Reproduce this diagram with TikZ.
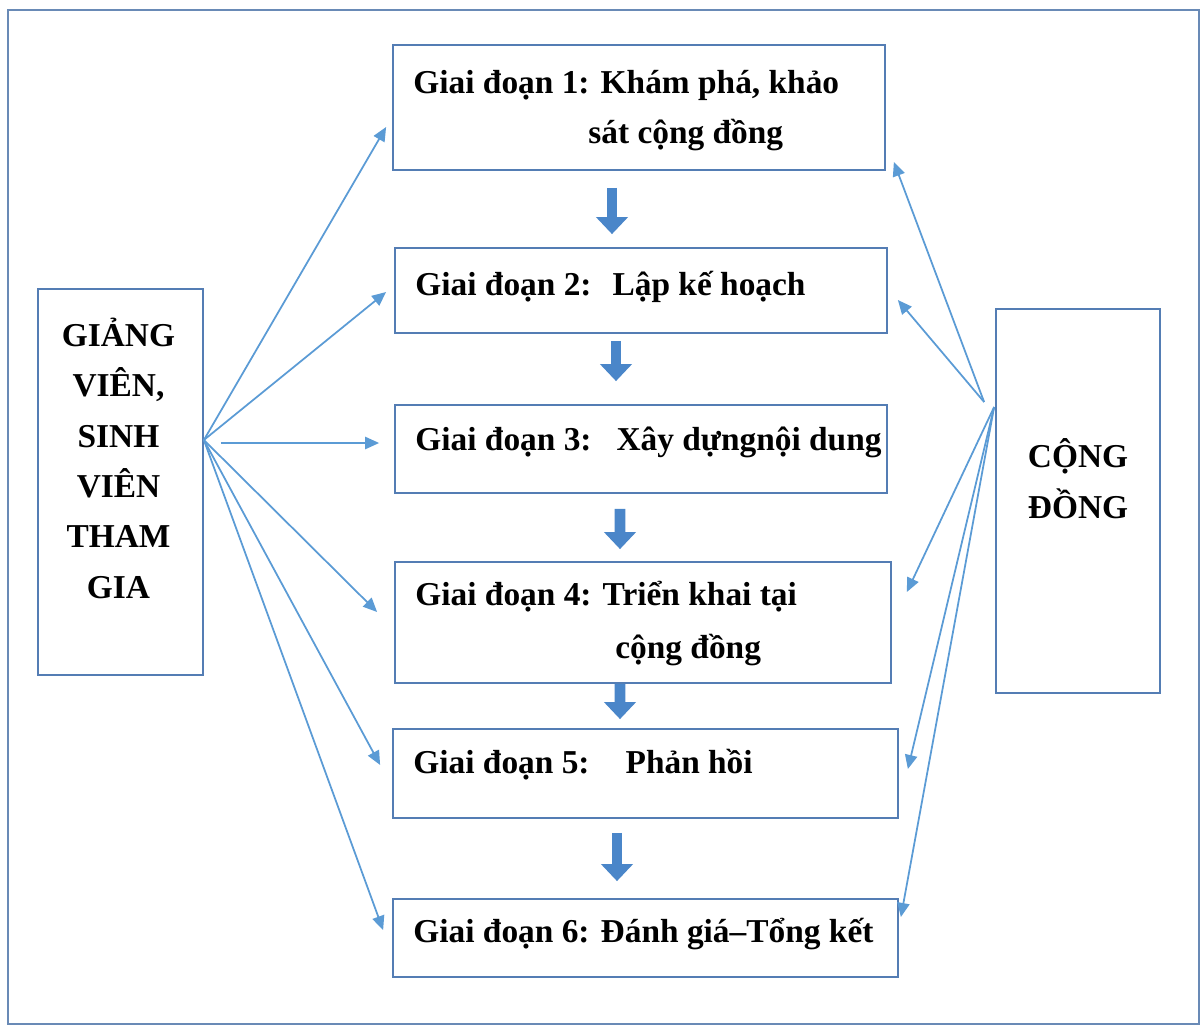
\documentclass[tikz,border=0pt]{standalone}
\usepackage{fontspec}
\setmainfont{Liberation Serif}
\usetikzlibrary{arrows.meta,calc}
\definecolor{boxblue}{RGB}{84,125,180}
\definecolor{linkblue}{RGB}{91,155,213}
\definecolor{flowblue}{RGB}{74,134,201}
\definecolor{framegray}{RGB}{105,138,182}
\tikzstyle{stage}=[draw=boxblue, line width=1pt, rectangle, inner sep=0pt]
\tikzstyle{txt}=[font=\bfseries\fontsize{19}{28.6}\selectfont, inner sep=0pt, anchor=base west]
\tikzstyle{link}=[linkblue, line width=1pt, -{Triangle[length=8pt,width=7pt]}]
\tikzstyle{flow}=[flowblue, line width=6.2pt, -{Triangle[length=0.34cm,width=0.62cm]}]
\begin{document}
\begin{tikzpicture}
	\useasboundingbox (0,0) rectangle (24.04,-20.52);
	\draw[framegray, line width=1.6pt] (0.16,-0.2) rectangle (23.98,-20.48);
%
	\node[stage, minimum width=9.84cm, minimum height=2.5cm] (b1) at (12.78,-2.15) {};
	\node[stage, minimum width=9.84cm, minimum height=1.7cm] (b2) at (12.82,-5.81) {};
	\node[stage, minimum width=9.84cm, minimum height=1.76cm] (b3) at (12.82,-8.98) {};
	\node[stage, minimum width=9.92cm, minimum height=2.42cm] (b4) at (12.86,-12.45) {};
	\node[stage, minimum width=10.1cm, minimum height=1.78cm] (b5) at (12.91,-15.47) {};
	\node[stage, minimum width=10.1cm, minimum height=1.56cm] (b6) at (12.91,-18.76) {};
	\node[stage, minimum width=3.3cm, minimum height=7.72cm] (gv) at (2.41,-9.64) {};
	\node[stage, minimum width=3.28cm, minimum height=7.68cm] (cd) at (21.56,-10.02) {};
%
	\node[txt] (t1a) at (8.26,-1.86) {Giai đoạn 1: Khám phá, khảo};
	\node[txt] (t1b) at (11.76,-2.86) {sát cộng đồng};
	\node[txt] (t2) at (8.30,-5.90) {Giai đoạn 2:\hspace{0.42cm}Lập kế hoạch};
	\node[txt] (t3) at (8.30,-9.00) {Giai đoạn 3:\hspace{0.5cm}Xây dựngnội dung};
	\node[txt] (t4a) at (8.30,-12.10) {Giai đoạn 4: Triển khai tại};
	\node[txt] (t4b) at (12.30,-13.16) {cộng đồng};
	\node[txt] (t5) at (8.26,-15.46) {Giai đoạn 5:\hspace{0.72cm}Phản hồi};
	\node[txt] (t6) at (8.26,-18.84) {Giai đoạn 6: Đánh giá–Tổng kết};
	\node[txt, anchor=base, align=center] (tgv) at (2.37,-11.96) {GIẢNG\\VIÊN,\\SINH\\VIÊN\\THAM\\GIA};
	\node[txt, anchor=base, align=center] (tcd) at (21.56,-10.36) {CỘNG\\ĐỒNG};
%
	\draw[flow] ($(b1.south)+(-0.54,-0.34)$) -- ($(b2.north)+(-0.58,0.26)$);
	\draw[flow] ($(b2.south)+(-0.5,-0.14)$) -- ($(b3.north)+(-0.5,0.46)$);
	\draw[flow] ($(b3.south)+(-0.42,-0.3)$) -- ($(b4.north)+(-0.46,0.24)$);
	\draw[flow] ($(b4.south)+(-0.46,0)$) -- ($(b5.north)+(-0.51,0.18)$);
	\draw[flow] ($(b5.south)+(-0.57,-0.28)$) -- ($(b6.north)+(-0.57,0.34)$);
%
	\coordinate (gvout) at ($(gv.east)+(0,0.84)$);
	\draw[link] (gvout) -- ($(b1.west)+(-0.12,-0.39)$);
	\draw[link] (gvout) -- ($(b2.west)+(-0.16,-0.03)$);
	\draw[link] ($(gv.east)+(0.34,0.78)$) -- ($(b3.west)+(-0.3,0.12)$);
	\draw[link] (gvout) -- ($(b4.west)+(-0.34,0.21)$);
	\draw[link] (gvout) -- ($(b5.west)+(-0.24,0.17)$);
	\draw[link] (gvout) -- ($(b6.west)+(-0.18,0.16)$);
%
	\coordinate (cdinA) at ($(cd.west)+(-0.22,1.98)$);
	\coordinate (cdinB) at ($(cd.west)+(-0.02,1.88)$);
	\draw[link] (cdinA) -- ($(b1.east)+(0.16,-1.09)$);
	\draw[link] (cdinA) -- ($(b2.east)+(0.2,-0.19)$);
	\draw[link] (cdinB) -- ($(b4.east)+(0.3,0.61)$);
	\draw[link] (cdinB) -- ($(b5.east)+(0.18,0.09)$);
	\draw[link] (cdinB) -- ($(b6.east)+(0.04,0.42)$);
\end{tikzpicture}
\end{document}
